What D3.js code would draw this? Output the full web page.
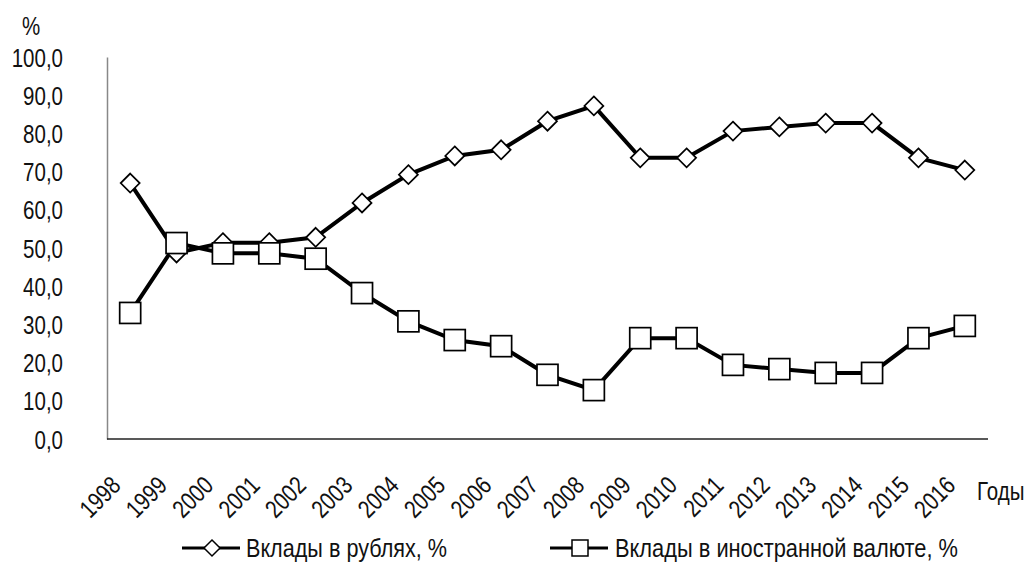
<!DOCTYPE html>
<html><head><meta charset="utf-8">
<script src="https://cdn.jsdelivr.net/npm/d3@7"></script>
<style>body{margin:0;background:#fff}svg{display:block}text{font-family:"Liberation Sans",Arial,sans-serif;fill:#111}</style>
</head><body><svg id="c" width="1029" height="567"></svg>
<script>
const years = ["1998","1999","2000","2001","2002","2003","2004","2005","2006","2007","2008","2009","2010","2011","2012","2013","2014","2015","2016"];
const rubles = [67.0,48.7,51.4,51.4,52.8,61.8,69.2,74.1,75.7,83.2,87.2,73.6,73.6,80.6,81.7,82.7,82.7,73.6,70.4];
const foreign = [33.0,51.3,48.6,48.6,47.2,38.2,30.8,25.9,24.3,16.8,12.8,26.4,26.4,19.4,18.3,17.3,17.3,26.4,29.6];
const yTicks = [0,10,20,30,40,50,60,70,80,90,100];
const seriesNames = ["Вклады в рублях, %","Вклады в иностранной валюте, %"];

const FS = 25, SX = 0.82;
const svg = d3.select("#c");
const x = d3.scaleBand().domain(years).range([107,988]);
const y = d3.scaleLinear().domain([0,100]).range([439,57]);
const fmt = v => v.toFixed(1).replace(".", ",");

// y axis
const ya = svg.append("g").attr("transform","translate(107,0)")
  .call(d3.axisLeft(y).tickValues(yTicks).tickSize(0).tickFormat(fmt));
ya.select(".domain").attr("stroke","#888").attr("stroke-width",1.5);
ya.selectAll("text").attr("font-size",FS).attr("x",0).attr("dy","0.36em")
  .attr("transform",`translate(-44,0) scale(${SX},1)`);

// x axis
const xa = svg.append("g").attr("transform","translate(0,439)")
  .call(d3.axisBottom(x).tickSize(0).tickFormat(d=>d));
xa.select(".domain").attr("stroke","#222").attr("stroke-width",1.5).attr("d","M107,0H988");
xa.selectAll("text").attr("font-size",FS).attr("text-anchor","end").attr("y",0).attr("dy",0)
  .attr("transform",`translate(-8,48) rotate(-45) scale(${SX},1)`);

svg.append("text").attr("transform",`translate(22,35) scale(${SX},1)`).attr("font-size",FS).text("%");
svg.append("text").attr("transform",`translate(977,500) scale(${SX},1)`).attr("font-size",FS).text("Годы");

const cx = d => x(d) + x.bandwidth()/2;
const line = d3.line().x((d,i)=>cx(years[i])).y(d=>y(d));
const diamond = s => `M0,${-s}L${s},0L0,${s}L${-s},0Z`;

svg.append("path").datum(rubles).attr("d",line).attr("fill","none").attr("stroke","#000").attr("stroke-width",4);
svg.append("path").datum(foreign).attr("d",line).attr("fill","none").attr("stroke","#000").attr("stroke-width",4);

svg.append("g").selectAll("path").data(rubles).join("path")
  .attr("transform",(d,i)=>`translate(${cx(years[i])},${y(d)})`)
  .attr("d",diamond(9.5)).attr("fill","#fff").attr("stroke","#000").attr("stroke-width",1.7);
svg.append("g").selectAll("rect").data(foreign).join("rect")
  .attr("x",(d,i)=>cx(years[i])-10.5).attr("y",d=>y(d)-10.5).attr("width",21).attr("height",21)
  .attr("fill","#fff").attr("stroke","#000").attr("stroke-width",1.7);

// legend
const lg = svg.append("g");
const ly = 548, tb = 557, LFS = 25;
lg.append("line").attr("x1",182).attr("x2",240).attr("y1",ly).attr("y2",ly).attr("stroke","#000").attr("stroke-width",3);
lg.append("path").attr("transform",`translate(212,${ly})`).attr("d",diamond(8)).attr("fill","#fff").attr("stroke","#000").attr("stroke-width",1.5);
lg.append("text").attr("x",246).attr("y",tb).attr("font-size",LFS)
  .attr("textLength",201).attr("lengthAdjust","spacingAndGlyphs").text(seriesNames[0]);
lg.append("line").attr("x1",550).attr("x2",608).attr("y1",ly).attr("y2",ly).attr("stroke","#000").attr("stroke-width",3);
lg.append("rect").attr("x",572).attr("y",ly-8).attr("width",16).attr("height",16).attr("fill","#fff").attr("stroke","#000").attr("stroke-width",1.5);
lg.append("text").attr("x",615).attr("y",tb).attr("font-size",LFS)
  .attr("textLength",343).attr("lengthAdjust","spacingAndGlyphs").text(seriesNames[1]);
</script></body></html>
